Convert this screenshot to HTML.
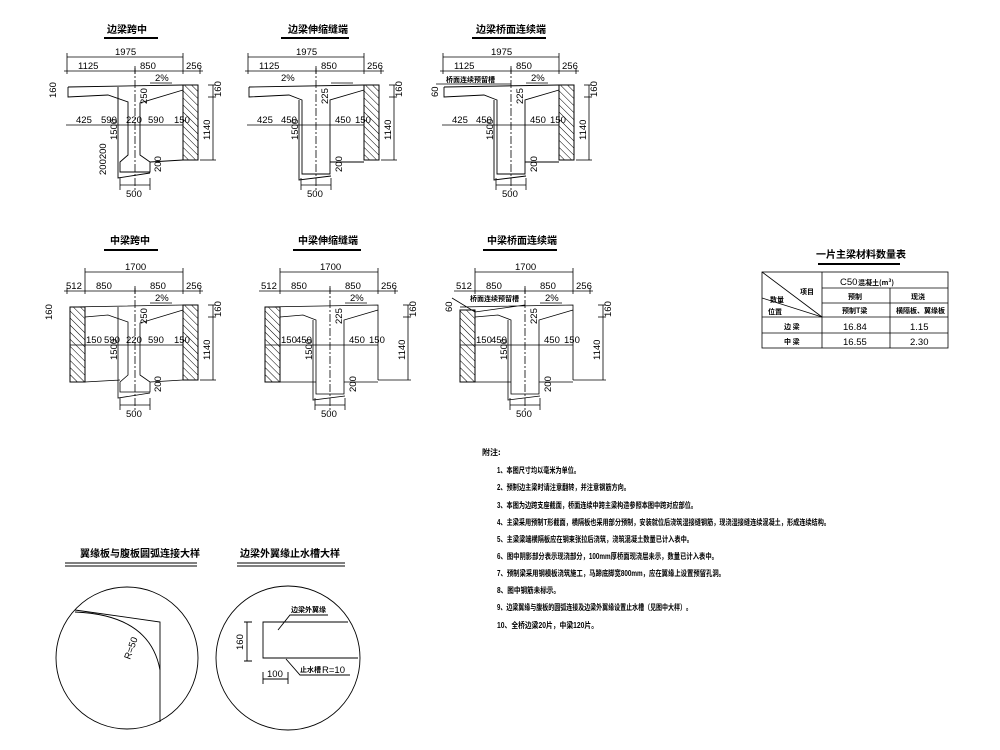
<!DOCTYPE html>
<html><head><meta charset="utf-8"><style>
html,body{margin:0;padding:0;background:#fff;}
svg{display:block;}
text{font-family:"Liberation Sans","Noto Sans CJK SC",sans-serif;fill:#000;}
.n{font-size:9.5px;font-family:"Liberation Sans Narrow","Liberation Sans",sans-serif;}
.t{font-size:10px;font-weight:bold;font-family:"Noto Sans CJK SC","WenQuanYi Zen Hei",sans-serif;}
.s{font-size:7px;font-weight:bold;font-family:"Noto Sans CJK SC","WenQuanYi Zen Hei",sans-serif;}
.nt{font-size:8px;font-weight:bold;font-family:"Noto Sans CJK SC","WenQuanYi Zen Hei",sans-serif;}
</style></head><body>
<svg width="1000" height="750" viewBox="0 0 1000 750" xmlns="http://www.w3.org/2000/svg">
<defs>
<pattern id="h" width="5" height="5" patternUnits="userSpaceOnUse" patternTransform="rotate(-45)">
<line x1="0" y1="0" x2="0" y2="5" stroke="#000" stroke-width="1"/></pattern>
<g id="dimsTop" stroke="#000" stroke-width="0.8" fill="none">
<line x1="67" y1="57" x2="183" y2="57"/><line x1="67" y1="53" x2="67" y2="74"/><line x1="183" y1="53" x2="183" y2="74"/>
<line x1="64" y1="71" x2="203" y2="71"/><line x1="135" y1="68" x2="135" y2="74"/><line x1="200" y1="68" x2="200" y2="74"/>
<line x1="150" y1="83" x2="172" y2="83"/>
<line x1="66" y1="125" x2="183" y2="125"/>
<line x1="213" y1="85" x2="213" y2="160"/><line x1="208" y1="85" x2="216" y2="85"/><line x1="208" y1="97" x2="216" y2="97"/><line x1="200" y1="160" x2="216" y2="160"/>
<line x1="120" y1="185" x2="150" y2="185"/><line x1="120" y1="178" x2="120" y2="190"/><line x1="150" y1="178" x2="150" y2="190"/>
<line x1="135" y1="66" x2="135" y2="190" stroke-dasharray="8 2 2 2"/>
</g>
<g id="wallR"><rect x="183" y="85" width="15" height="75" fill="url(#h)" stroke="#000"/></g>
<g id="secA" stroke="#000" stroke-width="0.9" fill="none">
<path d="M68,87 L183,85"/>
<path d="M68,87 V97 L108,95 L128,102 V155 L120,162 V172 L150,172 V162 L140,155 V103 L183,90"/>
<path d="M118,87 V178 L150,173"/>
<path d="M150,162 L183,160"/>
</g>
<g id="secB" stroke="#000" stroke-width="0.9" fill="none">
<path d="M68,87 L183,85"/>
<path d="M68,87 V97 L108,95 L121,100 V174 L149,174 V100 L183,90"/>
<path d="M118,100 V180 L150,176"/>
<path d="M149,162 L183,162"/>
</g>
</defs>

<!-- ROW 1 -->
<g>
<text class="t" x="107" y="33">边梁跨中</text>
<line x1="104" y1="38" x2="158" y2="38" stroke="#000" stroke-width="2"/>
<use href="#dimsTop"/><use href="#secA"/><use href="#wallR"/>
<g class="n">
<text x="115" y="55">1975</text><text x="78" y="69">1125</text><text x="140" y="69">850</text><text x="186" y="69">256</text>
<text x="155" y="81">2%</text>
<text x="76" y="123">425</text><text x="101" y="123">590</text><text x="126" y="123">220</text><text x="148" y="123">590</text><text x="174" y="123">150</text>
<text x="126" y="197">500</text>
<text transform="translate(56,98) rotate(-90)">160</text>
<text transform="translate(221,97) rotate(-90)">160</text>
<text transform="translate(210,140) rotate(-90)">1140</text>
<text transform="translate(117,140) rotate(-90)">1500</text>
<text transform="translate(106,175) rotate(-90)">200200</text>
<text transform="translate(161,172) rotate(-90)">200</text>
<text transform="translate(147,104) rotate(-90)">250</text>
</g>
</g>

<g transform="translate(181,0)">
<text class="t" x="107" y="33">边梁伸缩缝端</text>
<line x1="100" y1="38" x2="168" y2="38" stroke="#000" stroke-width="2"/>
<use href="#dimsTop"/><use href="#secB"/><use href="#wallR"/>
<g class="n">
<text x="115" y="55">1975</text><text x="78" y="69">1125</text><text x="140" y="69">850</text><text x="186" y="69">256</text>
<text x="100" y="81">2%</text>
<text x="76" y="123">425</text><text x="100" y="123">450</text><text x="154" y="123">450</text><text x="174" y="123">150</text>
<text x="126" y="197">500</text>
<text transform="translate(221,97) rotate(-90)">160</text>
<text transform="translate(210,140) rotate(-90)">1140</text>
<text transform="translate(117,140) rotate(-90)">1500</text>
<text transform="translate(161,172) rotate(-90)">200</text>
<text transform="translate(147,104) rotate(-90)">225</text>
</g>
</g>

<g transform="translate(376,0)">
<text class="t" x="100" y="33">边梁桥面连续端</text>
<line x1="96" y1="38" x2="170" y2="38" stroke="#000" stroke-width="2"/>
<use href="#dimsTop"/><use href="#secB"/><use href="#wallR"/>
<line x1="60" y1="84" x2="135" y2="84" stroke="#000" stroke-width="0.8"/>
<g class="n">
<text x="115" y="55">1975</text><text x="78" y="69">1125</text><text x="140" y="69">850</text><text x="186" y="69">256</text>
<text x="155" y="81">2%</text>
<text x="76" y="123">425</text><text x="100" y="123">450</text><text x="154" y="123">450</text><text x="174" y="123">150</text>
<text x="126" y="197">500</text>
<text transform="translate(221,97) rotate(-90)">160</text>
<text transform="translate(210,140) rotate(-90)">1140</text>
<text transform="translate(117,140) rotate(-90)">1500</text>
<text transform="translate(161,172) rotate(-90)">200</text>
<text transform="translate(147,104) rotate(-90)">225</text>
<text transform="translate(62,97) rotate(-90)">60</text>
</g>
<text class="s" x="70" y="82">桥面连续预留槽</text>
</g>

<!-- ROW 2 -->
<g transform="translate(0,220)">
<text class="t" x="110" y="24">中梁跨中</text>
<line x1="104" y1="30" x2="158" y2="30" stroke="#000" stroke-width="2"/>
<g stroke="#000" stroke-width="0.8" fill="none">
<line x1="85" y1="52" x2="183" y2="52"/><line x1="85" y1="48" x2="85" y2="74"/><line x1="183" y1="48" x2="183" y2="74"/>
<line x1="64" y1="71" x2="203" y2="71"/><line x1="135" y1="68" x2="135" y2="74"/><line x1="200" y1="68" x2="200" y2="74"/><line x1="67" y1="68" x2="67" y2="74"/>
<line x1="150" y1="83" x2="172" y2="83"/>
<line x1="70" y1="125" x2="183" y2="125"/>
<line x1="213" y1="85" x2="213" y2="160"/><line x1="208" y1="85" x2="216" y2="85"/><line x1="208" y1="97" x2="216" y2="97"/><line x1="200" y1="160" x2="216" y2="160"/>
<line x1="120" y1="185" x2="150" y2="185"/><line x1="120" y1="178" x2="120" y2="190"/><line x1="150" y1="178" x2="150" y2="190"/>
<line x1="135" y1="66" x2="135" y2="190" stroke-dasharray="8 2 2 2"/>
<path d="M70,87 L183,85 M85,97 L108,95 L128,102 V155 L120,162 V172 L150,172 V162 L140,155 V103 L183,90 M118,87 V178 L150,173 M150,162 L183,160 M85,162 L120,160"/>
</g>
<use href="#wallR"/>
<rect x="70" y="87" width="15" height="75" fill="url(#h)" stroke="#000"/>
<g class="n">
<text x="125" y="50">1700</text><text x="66" y="69">512</text><text x="96" y="69">850</text><text x="150" y="69">850</text><text x="186" y="69">256</text>
<text x="155" y="81">2%</text>
<text x="86" y="123">150</text><text x="104" y="123">590</text><text x="126" y="123">220</text><text x="148" y="123">590</text><text x="174" y="123">150</text>
<text x="126" y="197">500</text>
<text transform="translate(52,100) rotate(-90)">160</text>
<text transform="translate(221,97) rotate(-90)">160</text>
<text transform="translate(210,140) rotate(-90)">1140</text>
<text transform="translate(117,140) rotate(-90)">1500</text>
<text transform="translate(161,172) rotate(-90)">200</text>
<text transform="translate(147,104) rotate(-90)">250</text>
</g>
</g>

<g transform="translate(195,220)">
<text class="t" x="103" y="24">中梁伸缩缝端</text>
<line x1="98" y1="30" x2="166" y2="30" stroke="#000" stroke-width="2"/>
<g stroke="#000" stroke-width="0.8" fill="none">
<line x1="85" y1="52" x2="183" y2="52"/><line x1="85" y1="48" x2="85" y2="74"/><line x1="183" y1="48" x2="183" y2="74"/>
<line x1="64" y1="71" x2="203" y2="71"/><line x1="135" y1="68" x2="135" y2="74"/><line x1="200" y1="68" x2="200" y2="74"/>
<line x1="150" y1="83" x2="172" y2="83"/>
<line x1="70" y1="125" x2="183" y2="125"/>
<line x1="213" y1="85" x2="213" y2="160"/><line x1="208" y1="85" x2="216" y2="85"/><line x1="208" y1="97" x2="216" y2="97"/><line x1="183" y1="160" x2="216" y2="160"/>
<line x1="120" y1="185" x2="150" y2="185"/><line x1="120" y1="178" x2="120" y2="190"/><line x1="150" y1="178" x2="150" y2="190"/>
<line x1="135" y1="66" x2="135" y2="190" stroke-dasharray="8 2 2 2"/>
<path d="M70,87 L183,85 V160 M85,97 L108,95 L121,100 V174 L149,174 V100 L183,90 M118,100 V180 L150,176 M149,162 L183,162 M85,162 L121,162"/>
</g>
<rect x="70" y="87" width="15" height="75" fill="url(#h)" stroke="#000"/>
<g class="n">
<text x="125" y="50">1700</text><text x="66" y="69">512</text><text x="96" y="69">850</text><text x="150" y="69">850</text><text x="186" y="69">256</text>
<text x="155" y="81">2%</text>
<text x="86" y="123">150</text><text x="101" y="123">450</text><text x="154" y="123">450</text><text x="174" y="123">150</text>
<text x="126" y="197">500</text>
<text transform="translate(221,97) rotate(-90)">160</text>
<text transform="translate(210,140) rotate(-90)">1140</text>
<text transform="translate(117,140) rotate(-90)">1500</text>
<text transform="translate(161,172) rotate(-90)">200</text>
<text transform="translate(147,104) rotate(-90)">225</text>
</g>
</g>

<g transform="translate(390,220)">
<text class="t" x="97" y="24">中梁桥面连续端</text>
<line x1="93" y1="30" x2="167" y2="30" stroke="#000" stroke-width="2"/>
<g stroke="#000" stroke-width="0.8" fill="none">
<line x1="85" y1="52" x2="183" y2="52"/><line x1="85" y1="48" x2="85" y2="74"/><line x1="183" y1="48" x2="183" y2="74"/>
<line x1="64" y1="71" x2="203" y2="71"/><line x1="135" y1="68" x2="135" y2="74"/><line x1="200" y1="68" x2="200" y2="74"/>
<line x1="150" y1="83" x2="172" y2="83"/>
<line x1="70" y1="125" x2="183" y2="125"/>
<line x1="213" y1="85" x2="213" y2="160"/><line x1="208" y1="85" x2="216" y2="85"/><line x1="208" y1="97" x2="216" y2="97"/><line x1="183" y1="160" x2="216" y2="160"/>
<line x1="120" y1="185" x2="150" y2="185"/><line x1="120" y1="178" x2="120" y2="190"/><line x1="150" y1="178" x2="150" y2="190"/>
<line x1="135" y1="66" x2="135" y2="190" stroke-dasharray="8 2 2 2"/>
<path d="M62,78 L85,92 L135,85 M70,87 L183,85 V160 M85,97 L108,95 L121,100 V174 L149,174 V100 L183,90 M118,100 V180 L150,176 M149,162 L183,162 M85,162 L121,162"/>
</g>
<rect x="70" y="90" width="15" height="72" fill="url(#h)" stroke="#000"/>
<text class="s" x="80" y="81">桥面连续预留槽</text>
<g class="n">
<text x="125" y="50">1700</text><text x="66" y="69">512</text><text x="96" y="69">850</text><text x="150" y="69">850</text><text x="186" y="69">256</text>
<text x="155" y="81">2%</text>
<text x="86" y="123">150</text><text x="101" y="123">450</text><text x="154" y="123">450</text><text x="174" y="123">150</text>
<text x="126" y="197">500</text>
<text transform="translate(221,97) rotate(-90)">160</text>
<text transform="translate(210,140) rotate(-90)">1140</text>
<text transform="translate(117,140) rotate(-90)">1500</text>
<text transform="translate(161,172) rotate(-90)">200</text>
<text transform="translate(147,104) rotate(-90)">225</text>
<text transform="translate(62,92) rotate(-90)">60</text>
</g>
</g>

<!-- TABLE -->
<text class="t" x="816" y="258">一片主梁材料数量表</text>
<line x1="818" y1="264" x2="900" y2="264" stroke="#000" stroke-width="2"/>
<g stroke="#000" stroke-width="0.8" fill="none">
<rect x="762" y="272" width="186" height="76"/>
<line x1="822" y1="272" x2="822" y2="348"/>
<line x1="890" y1="288" x2="890" y2="348"/>
<line x1="822" y1="288" x2="948" y2="288"/>
<line x1="822" y1="303" x2="948" y2="303"/>
<line x1="762" y1="317" x2="948" y2="317"/>
<line x1="762" y1="333" x2="948" y2="333"/>
<line x1="762" y1="272" x2="822" y2="317"/>
<line x1="762" y1="298" x2="822" y2="317"/>
</g>
<text class="n" x="840" y="285">C50</text><text class="s" x="858" y="285">混凝土(m³)</text>
<text class="s" x="800" y="294">项目</text><text class="s" x="770" y="302">数量</text><text class="s" x="768" y="314">位置</text>
<text class="s" x="848" y="299">预制</text><text class="s" x="911" y="299">现浇</text>
<text class="s" x="842" y="313">预制T梁</text><text class="s" x="896" y="313">横隔板、翼缘板</text>
<text class="s" x="784" y="329">边 梁</text><text class="s" x="784" y="344">中 梁</text>
<text class="n" x="843" y="330">16.84</text><text class="n" x="910" y="330">1.15</text>
<text class="n" x="843" y="345">16.55</text><text class="n" x="910" y="345">2.30</text>

<!-- NOTES -->
<text class="nt" x="482" y="455">附注:</text>
<g class="nt">
<text x="497" y="473" textLength="83" lengthAdjust="spacingAndGlyphs">1、本图尺寸均以毫米为单位。</text>
<text x="497" y="490" textLength="133" lengthAdjust="spacingAndGlyphs">2、预制边主梁时请注意翻转，并注意钢筋方向。</text>
<text x="497" y="508" textLength="200" lengthAdjust="spacingAndGlyphs">3、本图为边跨支座截面，桥面连续中跨主梁构造参照本图中跨对应部位。</text>
<text x="497" y="525" textLength="333" lengthAdjust="spacingAndGlyphs">4、主梁采用预制T形截面，横隔板也采用部分预制，安装就位后浇筑湿接缝钢筋，现浇湿接缝连续混凝土，形成连续结构。</text>
<text x="497" y="542" textLength="196" lengthAdjust="spacingAndGlyphs">5、主梁梁端横隔板应在钢束张拉后浇筑，浇筑混凝土数量已计入表中。</text>
<text x="497" y="559" textLength="221" lengthAdjust="spacingAndGlyphs">6、图中阴影部分表示现浇部分，100mm厚桥面现浇层未示，数量已计入表中。</text>
<text x="497" y="576" textLength="228" lengthAdjust="spacingAndGlyphs">7、预制梁采用钢模板浇筑施工，马蹄底脚宽800mm，应在翼缘上设置预留孔洞。</text>
<text x="497" y="593" textLength="63" lengthAdjust="spacingAndGlyphs">8、图中钢筋未标示。</text>
<text x="497" y="610" textLength="195" lengthAdjust="spacingAndGlyphs">9、边梁翼缘与腹板的圆弧连接及边梁外翼缘设置止水槽（见图中大样）。</text>
<text x="497" y="628" textLength="101" lengthAdjust="spacingAndGlyphs">10、全桥边梁20片，中梁120片。</text>
</g>

<!-- DETAILS -->
<text class="t" x="80" y="557">翼缘板与腹板圆弧连接大样</text>
<line x1="65" y1="563" x2="197" y2="563" stroke="#000" stroke-width="1"/>
<line x1="65" y1="566" x2="197" y2="566" stroke="#000" stroke-width="1"/>
<text class="t" x="240" y="557">边梁外翼缘止水槽大样</text>
<line x1="237" y1="563" x2="345" y2="563" stroke="#000" stroke-width="1"/>
<line x1="237" y1="566" x2="345" y2="566" stroke="#000" stroke-width="1"/>
<g stroke="#000" stroke-width="0.9" fill="none">
<circle cx="127" cy="658" r="71"/>
<path d="M75,610 L160,622 V722"/>
<path d="M75,612 Q150,615 160,670"/>
<circle cx="288" cy="658" r="72"/>
<path d="M348,622 H263 V658 H358"/>
<path d="M244,622 H252 M244,661 H252 M247,622 V661"/>
<path d="M263,672 V684 M288,672 V684 M263,679 H288"/>
<path d="M278,630 L290,615 H328"/>
<path d="M286,659 L300,675 H350"/>
</g>
<text class="n" transform="translate(130,660) rotate(-70)">R=50</text>
<text class="n" transform="translate(243,650) rotate(-90)">160</text>
<text class="n" x="267" y="677">100</text>
<text class="s" x="291" y="612">边梁外翼缘</text>
<text class="s" x="300" y="672">止水槽</text><text class="n" x="322" y="673">R=10</text>
</svg>
</body></html>
